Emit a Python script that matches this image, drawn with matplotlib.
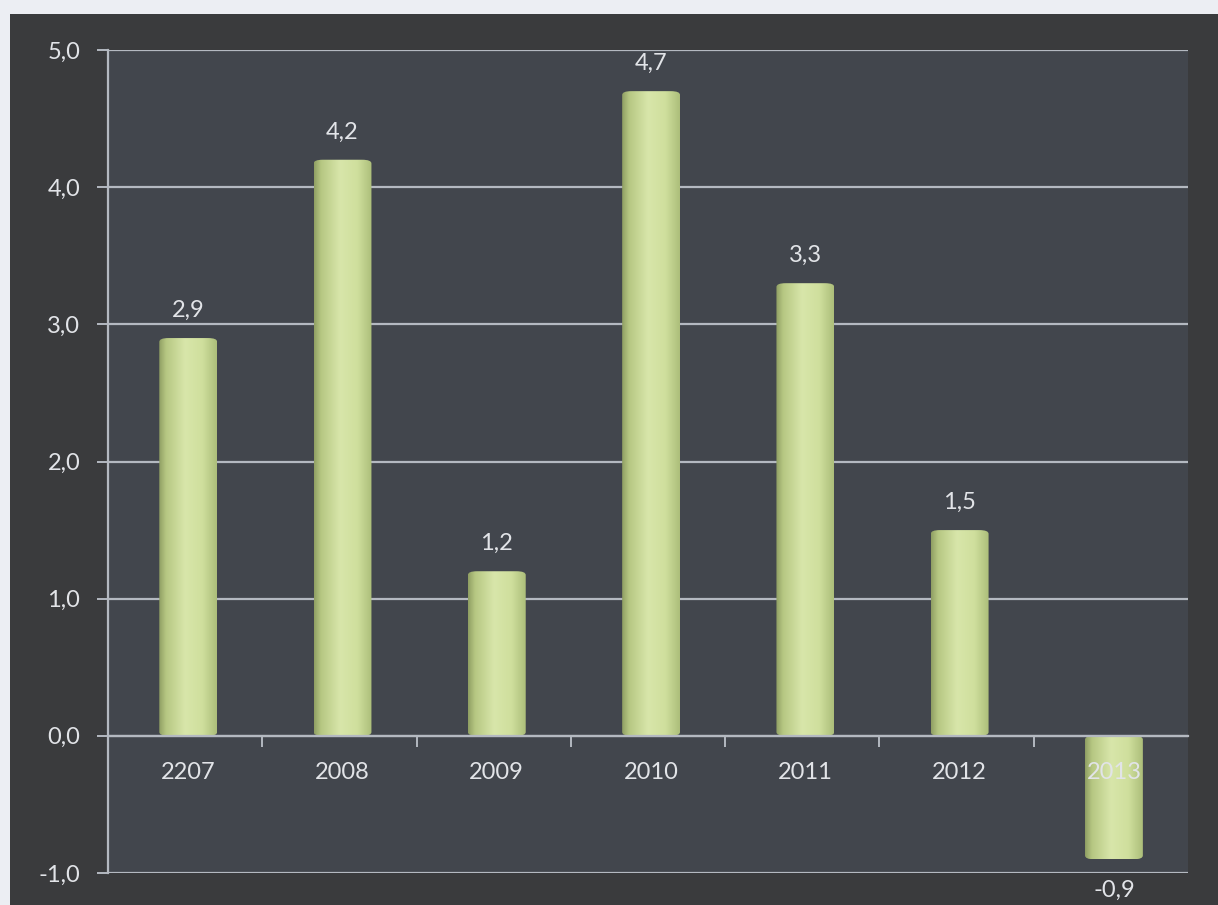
import numpy as np
import matplotlib.pyplot as plt
from matplotlib.patches import Rectangle, FancyBboxPatch
from matplotlib.colors import LinearSegmentedColormap

# annual values, one bar per year
years = ['2207', '2008', '2009', '2010', '2011', '2012', '2013']
values = [2.9, 4.2, 1.2, 4.7, 3.3, 1.5, -0.9]
yticks = [-1.0, 0.0, 1.0, 2.0, 3.0, 4.0, 5.0]

plt.rcParams['font.family'] = ['Lato', 'DejaVu Sans']

text_col = '#e2e4e8'
grid_col = '#b4b9c1'

fig = plt.figure(figsize=(12.18, 9.05), dpi=100)
fig.patch.set_facecolor('#eceef3')
# dark frame behind the plot
fig.patches.append(Rectangle((10 / 1218, 0), 1, 1 - 14 / 905, transform=fig.transFigure,
                             facecolor='#3a3b3d', edgecolor='none', zorder=-5))

ax = fig.add_axes([108 / 1218, 32 / 905, 1080 / 1218, 823 / 905])
ax.set_facecolor('#42464d')
ax.set_xlim(-0.5, len(years) - 0.5)
ax.set_ylim(-1.0, 5.0)

# horizontal grid
ax.set_yticks(yticks)
ax.set_yticklabels(['{:.1f}'.format(t).replace('.', ',') for t in yticks],
                   color=text_col, fontsize=17)
ax.yaxis.grid(True, color=grid_col, lw=1.6)
ax.set_axisbelow(True)
ax.tick_params(axis='y', length=8, width=1.4, color=grid_col, pad=12)

for s in ['top', 'right']:
    ax.spines[s].set_visible(False)
ax.spines['left'].set_color(grid_col)
ax.spines['left'].set_linewidth(1.6)
ax.spines['bottom'].set_position(('data', 0))
ax.spines['bottom'].set_color(grid_col)
ax.spines['bottom'].set_linewidth(1.6)

x = np.arange(len(years))
ax.set_xticks(x - 0.5, minor=True)
ax.set_xticks([])
ax.tick_params(axis='x', which='minor', length=8, width=1.4, color=grid_col, direction='out')

# cylinder-like shading across each bar
cmap = LinearSegmentedColormap.from_list('cyl', [
    (0.0, '#8f9e63'), (0.12, '#b6c782'), (0.45, '#d8e6aa'),
    (0.75, '#cfdf9d'), (1.0, '#acbe7a')])
grad = np.linspace(0, 1, 256).reshape(1, -1)

bw = 0.375
bars = ax.bar(x + 0.02, values, width=bw, color='none', edgecolor='none', zorder=2)
for b in bars:
    x0, y0 = b.get_x(), b.get_y()
    w, h = b.get_width(), b.get_height()
    ylo, yhi = min(y0, y0 + h), max(y0, y0 + h)
    clip = FancyBboxPatch((x0, ylo), w, yhi - ylo,
                          boxstyle='round,pad=0,rounding_size=0.06',
                          mutation_aspect=0.45, transform=ax.transData,
                          facecolor='none', edgecolor='none')
    ax.add_patch(clip)
    im = ax.imshow(grad, cmap=cmap, aspect='auto', extent=(x0, x0 + w, ylo, yhi),
                   zorder=2, interpolation='bilinear')
    im.set_clip_path(clip)

ax.set_xlim(-0.5, len(years) - 0.5)
ax.set_ylim(-1.0, 5.0)

# value labels and year labels
for i, v in enumerate(values):
    lbl = '{:.1f}'.format(v).replace('.', ',')
    yy = v + 0.2 if v >= 0 else v - 0.23
    ax.text(i + 0.02, yy, lbl, ha='center', va='center', color=text_col, fontsize=17,
            clip_on=False, zorder=5)
    ax.text(i + 0.02, -0.27, years[i], ha='center', va='center', color=text_col,
            fontsize=17, zorder=5)

fig.savefig('out.png', dpi=100, facecolor=fig.get_facecolor())
